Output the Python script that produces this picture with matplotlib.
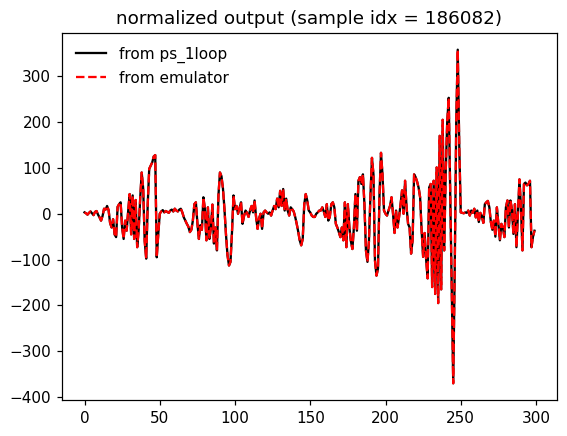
import matplotlib
matplotlib.use("Agg")
import matplotlib.pyplot as plt
import numpy as np

seg_a = [3, 1, -2, 2, 5, 1, -3, 4, 6, -2, -8, -15, -5, 11, 9, 17]
seg_b = [8, -20, -30, -12, -45, -51, 15, 21, 25, -30, -55, -15, -37, 5, 43]
seg_c = [-45, 40, -55, 30, -73, -35, 33, 90, 55, -60, -98, 20, 98, 105, 112, 125, 128, -95, -45, 0]
seg_d = [5, 8, 3, 6, 4, 2, 7, 9, 5, 11, 7, 5, 9, 11, 3, -8, -15, -22, -28, -40, -35, -15]
seg_e = [21, 25, -20, -55, -25, -35, 36, 10, -58, 14, -55, -30, 20, -65, -30, -80, 40, 90]
seg_f = [82, 55, 10, -45, -90, -113, -105, -40, 40, 10]
seg_g = [17, 0, 12, 25, -22, -5, 7, 2, -7, 7,
         17, 3, 29, -7, -33, -10, 0, -33, 3, 7,
         3, 0, 3, -4, 7, 17, 10, 33, 14, 50,
         17, 54, 7, 33, 7, -4, 14, 10, 5, -7,
         -22, -39, -58, -69, -55]
seg_h = [20, 43, 29, 7, 3, -4, -7, -7, 0, 3,
         7, 7, 14, 5, -7, 21, -15, -7, 21, 25,
         14, -22, -30, -40, -51, -30, -58, 25, -73, 21,
         -30, -60, -77, -30, 43, -37, 72, 80, 65, 86,
         20, -80, -105, -60, 40, 122, 86, -102, -135, -120,
         40, 133, 86]
seg_i = [7, 0, -4, 7, 17, 36, 0, -42, 7, -30,
         -7, 20, 51, 0, 72, 14, -22, -30, -87, -58,
         86, 80, 70, 57, 36, -37, -94, -42, -100, -141,
         57, 65, -160, 72, -175, 101, -195, 170, -165, 205,
         -80, 90, 200, 253, 45, -165, -370, -120, 200, 358,
         150, 3]
seg_j = [2, 1, 3, 2, 7, -4, 7, 2, 11, -8,
         7, -18, 2, -5, -20, 21, 25, 28]
seg_k = [14, -18, -35, -15, -50, 14, -22, -58, -22, -30,
         -51, 14, 29, -30, 29, 10, -44, 21, -73, 0,
         75, 14, -80, 65, 68, 62, 65, 72, -73, -50,
         -37]

ps_1loop = seg_a + seg_b + seg_c + seg_d + seg_e + seg_f + seg_g + seg_h + seg_i + seg_j + seg_k
emulator = list(ps_1loop)
idx = np.arange(len(ps_1loop))

DPI = 110
fig = plt.figure(figsize=(567/DPI, 436/DPI), dpi=DPI)
ax = fig.add_axes([62/567, 36/436, 495/567, 367/436])
ax.plot(idx, ps_1loop, color="black", lw=1.5, label="from ps_1loop")
ax.plot(idx, emulator, color="red", ls="--", lw=1.5, label="from emulator")
ax.set_title("normalized output (sample idx = 186082)")
ax.legend(loc="upper left", frameon=False)
fig.savefig("out.png", dpi=DPI)
